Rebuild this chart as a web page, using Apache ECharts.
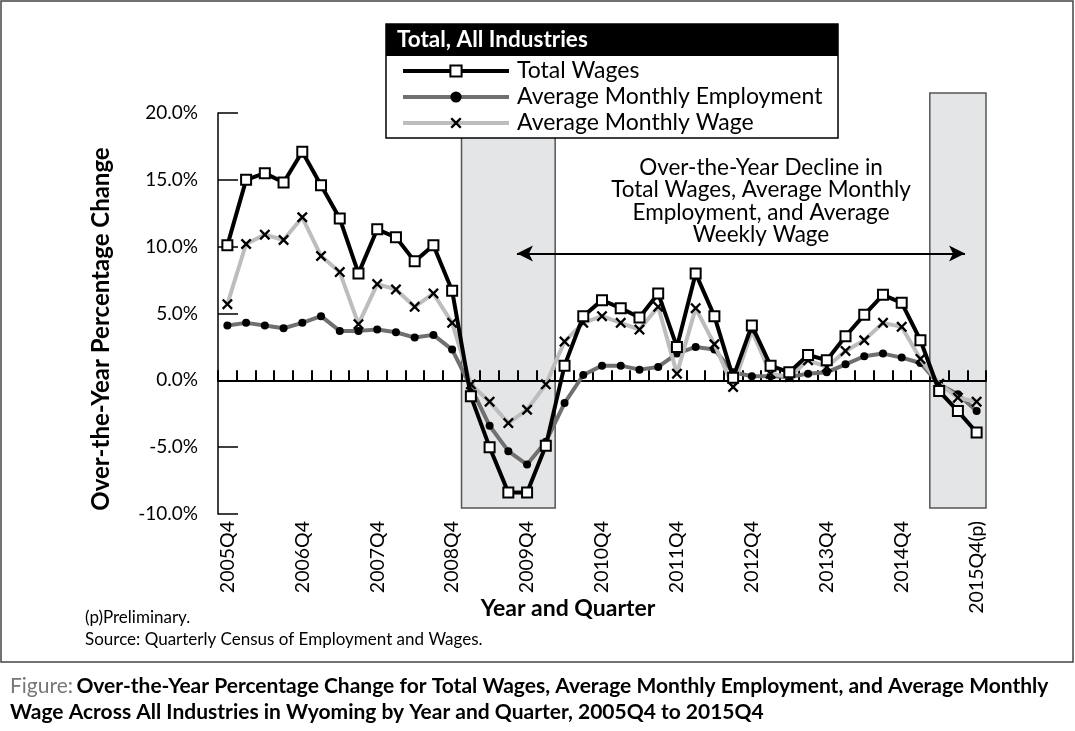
<!DOCTYPE html>
<html><head><meta charset="utf-8">
<script src="https://cdn.jsdelivr.net/npm/echarts@6/dist/echarts.min.js"></script>
<style>html,body{margin:0;padding:0;background:#fff}#c{width:1075px;height:731px}</style>
</head><body><div id="c"></div>
<script>
const categories = ['2005Q4',
 '2006Q1','2006Q2','2006Q3','2006Q4',
 '2007Q1','2007Q2','2007Q3','2007Q4',
 '2008Q1','2008Q2','2008Q3','2008Q4',
 '2009Q1','2009Q2','2009Q3','2009Q4',
 '2010Q1','2010Q2','2010Q3','2010Q4',
 '2011Q1','2011Q2','2011Q3','2011Q4',
 '2012Q1','2012Q2','2012Q3','2012Q4',
 '2013Q1','2013Q2','2013Q3','2013Q4',
 '2014Q1','2014Q2','2014Q3','2014Q4',
 '2015Q1','2015Q2','2015Q3','2015Q4(p)'];
const totalWages = [10.1, 15.0, 15.5, 14.8, 17.1, 14.6, 12.1, 8.0, 11.3, 10.7, 8.9, 10.1, 6.7, -1.2, -5.0, -8.4, -8.4, -4.9, 1.1, 4.8, 6.0, 5.4, 4.7, 6.5, 2.5, 8.0, 4.8, 0.2, 4.1, 1.1, 0.6, 1.9, 1.5, 3.3, 4.9, 6.4, 5.8, 3.0, -0.8, -2.3, -3.9];
const avgMonthlyEmployment = [4.1, 4.3, 4.1, 3.9, 4.3, 4.8, 3.7, 3.7, 3.8, 3.6, 3.2, 3.4, 2.3, -0.5, -3.4, -5.3, -6.3, -4.6, -1.7, 0.4, 1.1, 1.1, 0.8, 1.0, 2.0, 2.5, 2.3, 0.6, 0.3, 0.3, 0.25, 0.5, 0.6, 1.2, 1.8, 2.0, 1.7, 1.3, -0.3, -1.05, -2.3];
const avgMonthlyWage = [5.7, 10.2, 10.9, 10.5, 12.2, 9.3, 8.1, 4.2, 7.2, 6.8, 5.5, 6.5, 4.3, -0.3, -1.6, -3.2, -2.2, -0.3, 2.9, 4.3, 4.8, 4.3, 3.8, 5.5, 0.5, 5.4, 2.7, -0.5, 3.7, 0.5, 0.25, 1.5, 1.0, 2.2, 3.0, 4.3, 4.0, 1.6, -0.25, -1.3, -1.6];
const seriesNames = ['Total Wages', 'Average Monthly Employment', 'Average Monthly Wage'];
// shaded periods, in category-index units (boundaries between quarters)
const shadedPeriods = [[12.5, 17.5], [37.5, 40.5]];
const shadeRange = [-9.55, 21.5];
const arrowSpan = [15.46, 39.38];
const arrowLevel = 9.5;
const yMin = -10, yMax = 20, yStep = 5;

const FONT = 'Lato, "Open Sans", sans-serif';
const XSYM = 'path://M1.5,0L5,3.5L8.5,0L10,1.5L6.5,5L10,8.5L8.5,10L5,6.5L1.5,10L0,8.5L3.5,5L0,1.5Z';

const chart = echarts.init(document.getElementById('c'), null, {renderer: 'canvas'});
chart.setOption({
  animation: false,
  backgroundColor: '#fff',
  grid: [
    {left: 218, right: 89, top: 113, bottom: 217, containLabel: false},
    {left: 218, right: 89, top: 93, bottom: 217, containLabel: false}
  ],
  legend: {
    data: seriesNames,
    orient: 'vertical', left: 396, top: 53,
    itemWidth: 106, itemHeight: 14, itemGap: 0,
    textStyle: {fontSize: 23, color: '#000', fontFamily: FONT, lineHeight: 26, padding: [0, 0, 0, 3]},
    lineStyle: {width: 4},
    selectedMode: false,
    z: 12
  },
  xAxis: [{
    gridIndex: 0, type: 'category', data: categories, boundaryGap: true, position: 'bottom', z: 3,
    axisLine: {show: true, onZero: true, lineStyle: {color: '#000', width: 2}},
    axisTick: {show: true, inside: true, length: 10, interval: 0, lineStyle: {color: '#000', width: 2}},
    axisLabel: {show: false}, splitLine: {show: false}
  }, {
    gridIndex: 0, type: 'category', data: categories, boundaryGap: true, position: 'bottom', z: 2,
    axisLine: {show: false, onZero: false}, axisTick: {show: false},
    axisLabel: {show: true, interval: 3, rotate: 90, margin: 7, fontSize: 19.5, color: '#000', fontFamily: FONT},
    splitLine: {show: false}
  }, {
    gridIndex: 1, type: 'value', min: -0.5, max: categories.length - 0.5, show: false
  }],
  yAxis: [{
    gridIndex: 0, type: 'value', min: yMin, max: yMax, interval: yStep, z: 2,
    axisLine: {show: true, lineStyle: {color: '#000', width: 1.5}},
    axisTick: {show: true, inside: true, length: 20, lineStyle: {color: '#000', width: 1.5}},
    axisLabel: {formatter: v => v.toFixed(1) + '%', fontSize: 19, color: '#000', fontFamily: FONT, margin: 20},
    splitLine: {show: false}
  }, {
    gridIndex: 1, type: 'value', min: yMin, max: shadeRange[1], show: false
  }],
  series: [{
    type: 'line', xAxisIndex: 2, yAxisIndex: 1, data: [], z: 1, silent: true,
    markArea: {
      silent: true, z: 0,
      itemStyle: {color: 'rgba(10,20,40,0.11)', borderColor: '#555', borderWidth: 1.5},
      data: shadedPeriods.map(p => [{xAxis: p[0], yAxis: shadeRange[1]}, {xAxis: p[1], yAxis: shadeRange[0]}])
    },
    markLine: {
      silent: true, symbol: ['arrow', 'arrow'], symbolSize: [12, 16],
      lineStyle: {color: '#000', width: 2, type: 'solid'}, label: {show: false},
      data: [[{coord: [arrowSpan[0], arrowLevel]}, {coord: [arrowSpan[1], arrowLevel]}]]
    }
  }, {
    name: seriesNames[1], type: 'line', data: avgMonthlyEmployment, z: 3,
    symbol: 'circle', symbolSize: 8, showAllSymbol: true,
    lineStyle: {color: '#707070', width: 4}, itemStyle: {color: '#000'}
  }, {
    name: seriesNames[2], type: 'line', data: avgMonthlyWage, z: 4,
    symbol: XSYM, symbolSize: 11, showAllSymbol: true,
    lineStyle: {color: '#bdbdbd', width: 4}, itemStyle: {color: '#000'}
  }, {
    name: seriesNames[0], type: 'line', data: totalWages, z: 5,
    symbol: 'rect', symbolSize: 10, showAllSymbol: true,
    lineStyle: {color: '#000', width: 4}, itemStyle: {color: '#fff', borderColor: '#000', borderWidth: 2}
  }],
  graphic: [
    {type: 'rect', z: 0, shape: {x: 1, y: 1, width: 1072, height: 661}, style: {fill: 'none', stroke: '#444', lineWidth: 1.5}},
    {type: 'rect', z: 10, shape: {x: 386, y: 24, width: 452, height: 114}, style: {fill: '#fff', stroke: '#000', lineWidth: 1.5}},
    {type: 'rect', z: 11, shape: {x: 386, y: 24, width: 452, height: 32}, style: {fill: '#000'}},
    {type: 'text', z: 11, x: 397, y: 40, style: {text: 'Total, All Industries', fill: '#fff', font: 'bold 22.5px ' + FONT, verticalAlign: 'middle'}},
    {type: 'text', z: 11, x: 761, y: 156, style: {text: 'Over-the-Year Decline in\nTotal Wages, Average Monthly\nEmployment, and Average\nWeekly Wage', fill: '#000', font: '22.5px ' + FONT, lineHeight: 22.5, align: 'center', verticalAlign: 'top'}},
    {type: 'text', z: 11, x: 101, y: 329, rotation: Math.PI / 2, style: {text: 'Over-the-Year Percentage Change', fill: '#000', font: 'bold 24px ' + FONT, align: 'center', verticalAlign: 'middle'}},
    {type: 'text', z: 11, x: 568, y: 609, style: {text: 'Year and Quarter', fill: '#000', font: 'bold 23px ' + FONT, align: 'center', verticalAlign: 'middle'}},
    {type: 'text', z: 11, x: 85, y: 618, style: {text: '(p)Preliminary.', fill: '#000', font: '17px ' + FONT, verticalAlign: 'middle'}},
    {type: 'text', z: 11, x: 85, y: 640, style: {text: 'Source: Quarterly Census of Employment and Wages.', fill: '#000', font: '17px ' + FONT, verticalAlign: 'middle'}},
    {type: 'text', z: 11, x: 10, y: 686, style: {text: '{g|Figure:} {b|Over-the-Year Percentage Change for Total Wages, Average Monthly Employment, and Average Monthly}', verticalAlign: 'middle',
      rich: {g: {fill: '#777', font: '21px ' + FONT}, b: {fill: '#000', font: 'bold 21px ' + FONT}}}},
    {type: 'text', z: 11, x: 10, y: 712, style: {text: 'Wage Across All Industries in Wyoming by Year and Quarter, 2005Q4 to 2015Q4', fill: '#000', font: 'bold 21px ' + FONT, verticalAlign: 'middle'}}
  ]
});
</script></body></html>
